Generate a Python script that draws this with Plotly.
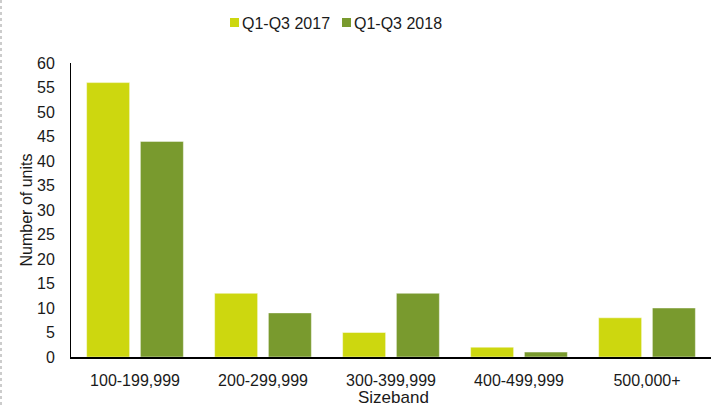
import plotly.graph_objects as go

categories = ["100-199,999", "200-299,999", "300-399,999", "400-499,999", "500,000+"]
series_2017 = [56, 13, 5, 2, 8]
series_2018 = [44, 9, 13, 1, 10]
series_names = ["Q1-Q3 2017", "Q1-Q3 2018"]
series_colors = ["#cdd70f", "#799a2e"]
y_ticks = list(range(0, 61, 5))

W, H = 712, 405
L, R, T, B = 71, 1, 63, 48
pw, ph = W - L - R, H - T - B


def px_x(v):
    return (v - L) / pw


def px_y(v):
    return (H - B - v) / ph


fig = go.Figure()
for name, vals, col in zip(series_names, [series_2017, series_2018], series_colors):
    fig.add_trace(go.Bar(name=name, x=categories, y=vals,
                         marker=dict(color=col, line=dict(color="rgba(255,255,255,0.45)", width=1))))

# dotted frame line at the left edge
fig.add_shape(type="line", xref="paper", yref="paper",
              x0=px_x(1), x1=px_x(1), y0=px_y(H), y1=px_y(0),
              line=dict(color="#999999", width=1, dash="dot"))

# legend drawn by hand (compact symbol-text spacing)
legend_items = [(230, 242), (342, 354)]
for (mx, tx), name, col in zip(legend_items, series_names, series_colors):
    fig.add_shape(type="rect", xref="paper", yref="paper",
                  x0=px_x(mx), x1=px_x(mx + 9), y0=px_y(27), y1=px_y(18),
                  fillcolor=col, line=dict(width=0))
    fig.add_annotation(xref="paper", yref="paper", x=px_x(tx - 2), y=px_y(23),
                       xanchor="left", yanchor="middle", showarrow=False,
                       text=name, font=dict(size=16, color="#1a1a1a"))

# x axis title near the bottom edge
fig.add_annotation(xref="paper", yref="paper", x=px_x(393), y=px_y(397),
                   xanchor="center", yanchor="middle", showarrow=False,
                   text="Sizeband", font=dict(size=17, color="#1a1a1a"))

fig.update_layout(
    width=W, height=H,
    margin=dict(l=L, r=R, t=T, b=B, autoexpand=False),
    paper_bgcolor="white", plot_bgcolor="white",
    font=dict(family="Liberation Sans, Arial, sans-serif", size=16, color="#1a1a1a"),
    barmode="group", bargap=0.16, bargroupgap=0.2,
    showlegend=False,
    xaxis=dict(showline=True, linecolor="#000000", linewidth=1.5, ticks="", showgrid=False,
               ticklabelstandoff=8, automargin=False, tickfont=dict(size=16)),
    yaxis=dict(range=[0, 60], tickvals=y_ticks, showline=True, linecolor="#000000", linewidth=1,
               ticks="", showgrid=False, zeroline=False, ticklabelstandoff=12, automargin=False,
               title=dict(text="Number of units", standoff=0, font=dict(size=16)), tickfont=dict(size=16)),
)

fig.write_html("out.html")
